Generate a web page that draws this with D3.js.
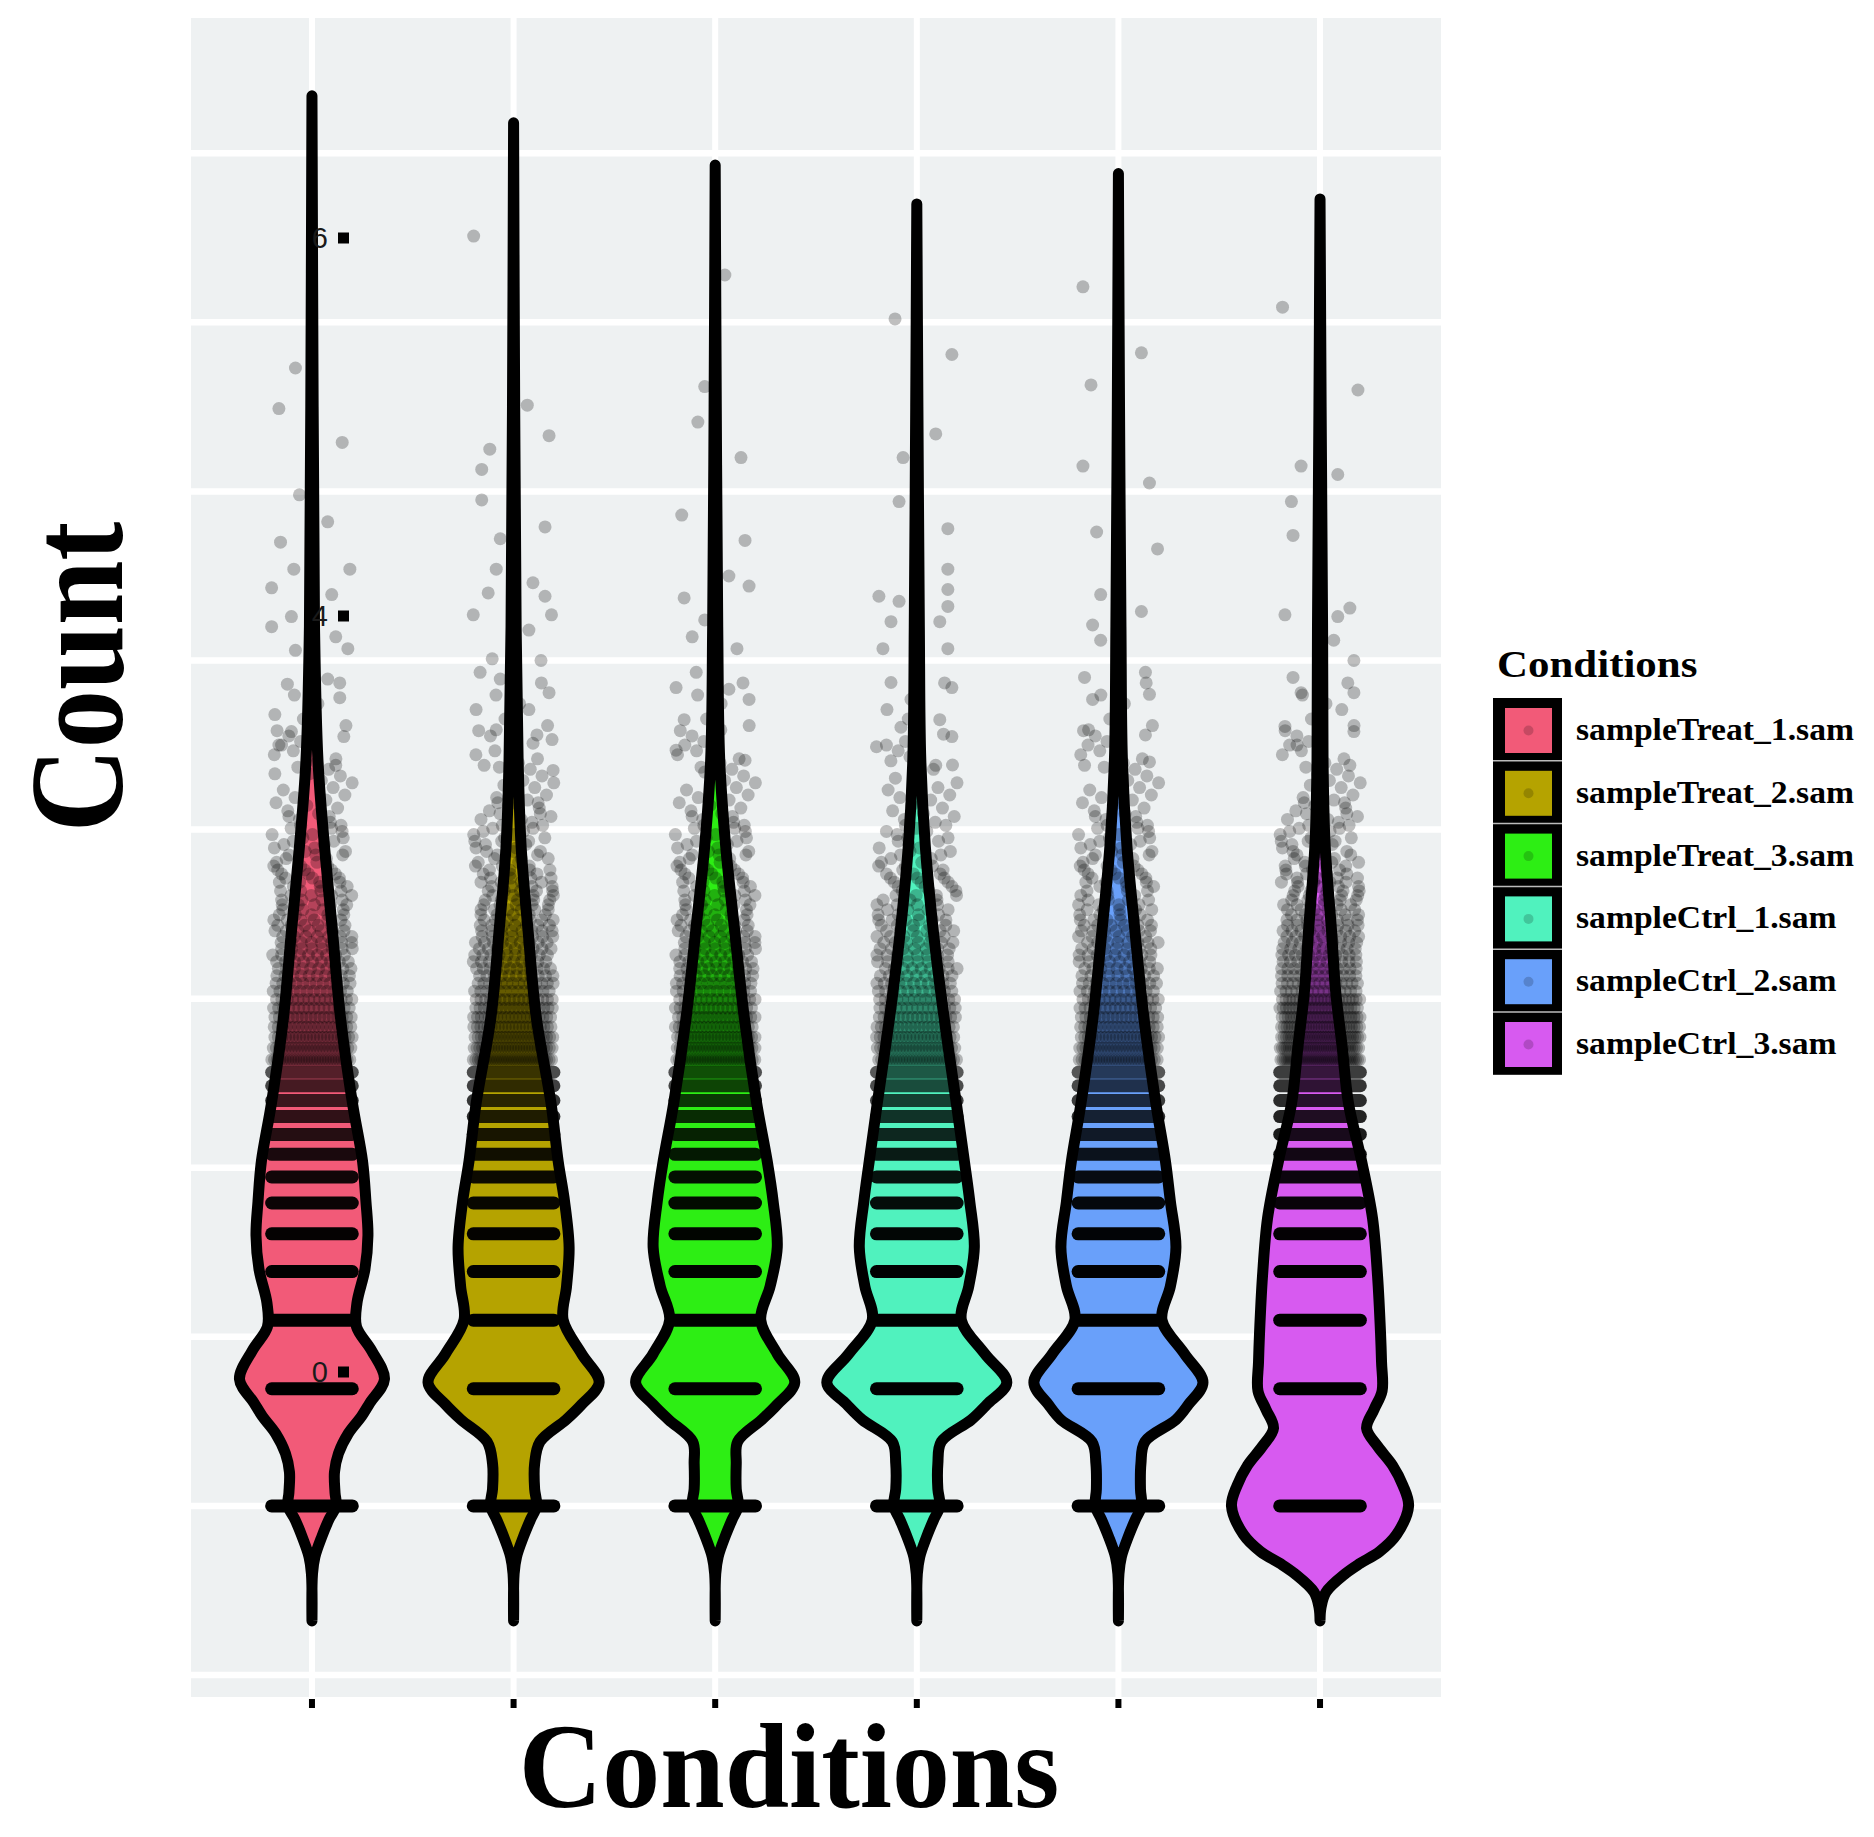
<!DOCTYPE html>
<html><head><meta charset="utf-8">
<script src="https://cdn.jsdelivr.net/npm/d3@7"></script>
<style>body{margin:0;background:#fff}svg{display:block}</style>
</head><body>
<svg id="chart" width="1874" height="1837"></svg>
<script>
// ---------- DATA ----------
const categories = ["sampleTreat_1.sam","sampleTreat_2.sam","sampleTreat_3.sam","sampleCtrl_1.sam","sampleCtrl_2.sam","sampleCtrl_3.sam"];
const fillColors = ["#F25A78","#B5A300","#2DEE14","#50F2BE","#69A0FA","#D75AF0"];
const gridValues = [-1,0,1,2,3,4,5,6,7,8];
const yLabelValues = [0,4,6];
const yLabelTexts = ["0","4","6"];
const yDomain = [-1.13, 8.80];
const labelDomain = [0, 6];

// count levels (upper end of each bin; y = ln(count)) and number of genes in each bin
const countLevels = [1,2,3,4,5,6,7,8,9,10,11,12,13,14,15,16,17,18,19,20,22,24,26,28,30,32,35,38,41,44,48,52,56,61,66,72,78,85,93,102,112,123,135];
const freqTreat1 = [700,320,210,160,125,100,85,72,60,52,45,40,34,30,26,23,20,18,16,15,24,20,18,16,14,12,14,12,10,9,9,8,7,6,5,4,4,4,3,3,2,2,1];
const freqTreat2 = [650,300,200,155,125,100,88,75,65,56,48,42,37,33,29,26,23,21,19,17,27,23,20,18,16,14,16,14,12,10,10,9,8,7,6,5,4,4,4,3,2,2,1];
const freqTreat3 = [680,310,205,158,124,100,86,73,62,54,46,40,35,31,27,24,21,19,17,15,25,21,18,16,14,12,14,12,10,9,9,8,7,6,5,4,4,4,3,3,2,2,1];
const freqCtrl1  = [720,320,205,155,120,96,82,70,58,50,43,37,32,28,25,22,19,17,15,14,22,18,16,14,12,11,12,10,9,8,8,7,6,5,4,4,3,3,3,2,2,1,1];
const freqCtrl2  = [700,315,205,156,122,98,84,71,60,51,44,38,33,29,26,23,20,18,16,15,23,19,17,15,13,12,13,11,10,9,9,8,7,6,5,4,4,4,3,3,2,2,1];
const freqCtrl3  = [800,330,215,165,130,108,92,80,70,62,55,49,44,40,36,33,30,27,25,23,30,26,23,20,18,16,18,15,13,11,11,9,8,7,6,5,4,4,3,3,2,2,1];

// violin density profiles: [ln count, relative half-width]
const profileTreat1 = [[-0.68,0],[-0.40,.006],[-0.30,.033],[-0.18,.11],[-0.08,.187],[0,.265],[0.08,.254],[0.2,.248],[0.31,.292],[0.43,.402],[0.53,.546],[0.61,.639],[0.75,.799],[0.92,.656],[1.06,.491],[1.2,.496],[1.4,.584],[1.6,.617],[1.8,.595],[2.04,.557],[2.38,.447],[2.89,.314],[3.40,.226],[3.9,.138],[4.41,.066],[5.2,.028],[6.5,.013],[8.34,0]];
const profileTreat2 = [[-0.68,0],[-0.40,.006],[-0.30,.033],[-0.18,.11],[-0.08,.187],[0,.254],[0.1,.232],[0.25,.232],[0.38,.292],[0.51,.579],[0.6,.75],[0.73,.943],[0.9,.75],[1.10,.546],[1.3,.584],[1.53,.612],[1.8,.562],[2.04,.491],[2.38,.413],[2.89,.25],[3.40,.16],[3.9,.083],[4.41,.05],[5.2,.028],[6.5,.012],[8.18,0]];
const profileTreat3 = [[-0.68,0],[-0.40,.006],[-0.30,.033],[-0.18,.11],[-0.08,.187],[0,.254],[0.1,.232],[0.25,.232],[0.38,.248],[0.51,.513],[0.6,.684],[0.73,.877],[0.9,.684],[1.10,.502],[1.3,.606],[1.53,.684],[1.8,.639],[2.04,.573],[2.38,.458],[2.89,.32],[3.40,.215],[3.9,.116],[4.41,.05],[5.2,.028],[6.5,.012],[7.93,0]];
const profileCtrl1 = [[-0.68,0],[-0.40,.006],[-0.30,.033],[-0.18,.11],[-0.08,.187],[0,.254],[0.1,.232],[0.25,.232],[0.38,.27],[0.51,.601],[0.6,.772],[0.73,.992],[0.9,.75],[1.10,.491],[1.3,.573],[1.53,.634],[1.8,.584],[2.04,.524],[2.38,.436],[2.89,.3],[3.40,.182],[3.9,.094],[4.41,.044],[5.2,.028],[6.5,.012],[7.70,0]];
const profileCtrl2 = [[-0.68,0],[-0.40,.006],[-0.30,.033],[-0.18,.11],[-0.08,.187],[0,.254],[0.1,.243],[0.25,.248],[0.38,.292],[0.51,.634],[0.6,.772],[0.73,.932],[0.9,.728],[1.10,.48],[1.3,.573],[1.53,.634],[1.8,.573],[2.04,.518],[2.38,.413],[2.89,.28],[3.40,.182],[3.9,.094],[4.41,.044],[5.2,.028],[6.5,.012],[7.88,0]];
const profileCtrl3 = [[-0.68,0],[-0.6,.011],[-0.51,.066],[-0.40,.281],[-0.34,.441],[-0.27,.656],[-0.17,.843],[0,.976],[0.12,.915],[0.24,.799],[0.35,.639],[0.46,.513],[0.57,.595],[0.68,.684],[0.85,.678],[1.02,.667],[1.36,.634],[1.70,.579],[2.04,.458],[2.38,.314],[2.72,.243],[3.05,.171],[3.40,.127],[3.91,.056],[4.41,.033],[5.2,.028],[6.5,.012],[7.73,0]];

// sparse high-count points: [jitter (-1..1), ln count]
const pointsTreat1 = [[-0.41,6.73],[-0.82,6.49],[0.75,6.29],[-0.31,5.98],[0.39,5.82],[-0.78,5.70],[-0.45,5.54],[0.94,5.54],[-1.0,5.43],[0.49,5.39],[-0.51,5.26],[-1.0,5.20],[0.59,5.14],[0.89,5.07],[-0.41,5.06],[-0.61,4.86],[0.39,4.89],[0.69,4.78],[-0.92,4.68],[-0.51,4.58],[0.79,4.55],[-0.82,4.50],[0.59,4.38],[-0.92,4.33]];
const pointsTreat2 = [[-0.99,7.51],[0.34,6.51],[0.88,6.33],[-0.59,6.25],[-0.79,6.13],[-0.79,5.95],[0.78,5.79],[-0.33,5.72],[-0.43,5.54],[0.48,5.46],[-0.63,5.40],[0.78,5.38],[-1.0,5.27],[0.94,5.27],[0.38,5.18],[-0.53,5.01],[0.68,5.00],[-0.83,4.93],[-0.33,4.89],[0.88,4.81],[-0.93,4.71],[0.38,4.71],[-0.43,4.59],[0.58,4.56],[-0.73,4.38],[0.98,4.35]];
const pointsTreat3 = [[0.24,7.28],[-0.26,6.62],[-0.43,6.41],[0.64,6.20],[-0.83,5.86],[0.74,5.71],[0.34,5.50],[0.84,5.44],[-0.77,5.37],[-0.26,5.24],[-0.57,5.14],[0.54,5.07],[-0.47,4.93],[-0.97,4.84],[0.34,4.83],[0.84,4.77],[-0.77,4.65],[0.14,4.59],[-0.97,4.47],[0.74,4.41],[-0.26,4.34]];
const pointsCtrl1 = [[-0.54,7.02],[0.87,6.81],[0.47,6.34],[-0.34,6.20],[-0.44,5.94],[0.77,5.78],[0.77,5.54],[0.77,5.42],[-0.94,5.38],[-0.44,5.35],[0.77,5.32],[-0.64,5.23],[0.57,5.23],[-0.84,5.07],[0.77,5.07],[-0.64,4.87],[0.87,4.84],[-0.74,4.71],[0.57,4.65],[-1.0,4.49],[0.87,4.55],[0.47,4.38]];
const pointsCtrl2 = [[-0.88,7.21],[0.57,6.82],[-0.68,6.63],[-0.88,6.15],[0.77,6.05],[-0.54,5.76],[0.97,5.66],[-0.44,5.39],[0.57,5.29],[-0.64,5.21],[-0.44,5.12],[-0.84,4.90],[0.67,4.93],[-0.64,4.77],[0.77,4.80],[-0.74,4.59],[0.67,4.56],[-0.84,4.38],[0.77,4.40]];
const pointsCtrl3 = [[-0.93,7.09],[0.94,6.60],[-0.47,6.15],[0.44,6.10],[-0.71,5.94],[-0.67,5.74],[-0.87,5.27],[0.74,5.31],[0.44,5.26],[0.34,5.12],[0.84,5.00],[-0.67,4.90],[-0.47,4.81],[0.84,4.81],[0.54,4.71],[-0.87,4.61],[-0.57,4.50],[0.84,4.58],[0.74,4.38]];

const freqs = [freqTreat1,freqTreat2,freqTreat3,freqCtrl1,freqCtrl2,freqCtrl3];
const profiles = [profileTreat1,profileTreat2,profileTreat3,profileCtrl1,profileCtrl2,profileCtrl3];
const pointSets = [pointsTreat1,pointsTreat2,pointsTreat3,pointsCtrl1,pointsCtrl2,pointsCtrl3];

// ---------- LAYOUT ----------
const svg = d3.select("#chart");
const panel = {left:191, right:1441, top:18, bottom:1697};
const x = d3.scalePoint().domain(categories).range([panel.left, panel.right]).padding(0.6);
const step = x.step();
const y = d3.scaleLinear().domain(yDomain).range([panel.bottom, panel.top]);
const yLab = d3.scaleLinear().domain(labelDomain).range([1372, 238]);
const wScale = d3.scaleLinear().domain([0,1]).range([0, 0.45*step]);
const color = d3.scaleOrdinal().domain(categories).range(fillColors);
const jitterHalf = 0.2*step;
const pointR = 6.5, pointAlpha = 0.25;
const solidBarMax = 13;           // rows up to this count drawn as merged bars
const serif = "'Liberation Serif','Times New Roman',serif";

svg.append("rect").attr("width",1874).attr("height",1837).attr("fill","#fff");
svg.append("rect").attr("x",panel.left).attr("y",panel.top)
  .attr("width",panel.right-panel.left).attr("height",panel.bottom-panel.top).attr("fill","#eef1f2");

// grid
svg.append("g").selectAll("line").data(gridValues).join("line")
  .attr("x1",panel.left).attr("x2",panel.right)
  .attr("y1",d=>y(d)).attr("y2",d=>y(d))
  .attr("stroke","#fff").attr("stroke-width",6.5);
svg.append("g").selectAll("line").data(categories).join("line")
  .attr("x1",d=>x(d)).attr("x2",d=>x(d))
  .attr("y1",panel.top).attr("y2",panel.bottom)
  .attr("stroke","#fff").attr("stroke-width",6);

// violins
const gV = svg.append("g");
categories.forEach((c,i)=>{
  const cx = x(c);
  const area = d3.area()
    .curve(d3.curveCatmullRom.alpha(0.5))
    .y(d=>y(d[0]))
    .x0(d=>cx - wScale(d[1]))
    .x1(d=>cx + wScale(d[1]));
  gV.append("path").datum(profiles[i]).attr("d",area)
    .attr("fill",color(c)).attr("stroke","#000").attr("stroke-width",11)
    .attr("stroke-linejoin","round");
});

// jittered points
const gS = svg.append("g");
const dotArea = Math.PI*pointR*pointR;
const golden = 0.6180339887;
categories.forEach((c,i)=>{
  const cx = x(c);
  const rows = [];
  countLevels.forEach((L,k)=>{
    const f = freqs[i][k];
    if (L <= solidBarMax) {
      const cover = f*dotArea/((2*jitterHalf+2*pointR)*2*pointR);
      const op = 1 - Math.pow(1-pointAlpha, cover);
      gS.append("line")
        .attr("x1",cx-jitterHalf).attr("x2",cx+jitterHalf)
        .attr("y1",y(Math.log(L))).attr("y2",y(Math.log(L)))
        .attr("stroke","#000").attr("stroke-opacity",op)
        .attr("stroke-width",2*pointR).attr("stroke-linecap","round");
      return;
    }
    const lo = k>0 ? countLevels[k-1]+1 : L;
    const m = L - lo + 1;
    const n = {};
    for (let j=0;j<f;j++){ const cnt = lo + Math.floor((j+0.5)*m/f); n[cnt]=(n[cnt]||0)+1; }
    Object.keys(n).forEach(cnt=>rows.push({count:+cnt, n:n[cnt]}));
  });
  const dots = [];
  rows.forEach(r=>{
    const phase = (r.count*golden) % 1;
    for (let j=0;j<r.n;j++){
      const u = ((j+0.5)/r.n + phase) % 1;
      dots.push({jit: u*2-1, v: Math.log(r.count)});
    }
  });
  gS.append("g").selectAll("circle").data(dots).join("circle")
    .attr("cx",d=>cx + d.jit*jitterHalf).attr("cy",d=>y(d.v))
    .attr("r",pointR).attr("fill","#000").attr("fill-opacity",pointAlpha);
});

// sparse points
const gP = svg.append("g");
categories.forEach((c,i)=>{
  const cx = x(c);
  gP.append("g").selectAll("circle").data(pointSets[i]).join("circle")
    .attr("cx",d=>cx + d[0]*jitterHalf).attr("cy",d=>y(d[1]))
    .attr("r",pointR).attr("fill","#000").attr("fill-opacity",pointAlpha);
});

// y labels (drawn inside panel as in reference)
const gY = svg.append("g");
gY.selectAll("text").data(yLabelValues).join("text")
  .attr("x",328).attr("y",d=>yLab(d)).attr("dy","0.35em")
  .attr("text-anchor","end").attr("font-family","'Liberation Sans',Arial,sans-serif")
  .attr("font-size",29).attr("fill","#1a1a1a")
  .text((d,i)=>yLabelTexts[i]);
gY.selectAll("rect").data(yLabelValues).join("rect")
  .attr("x",338).attr("y",d=>yLab(d)-5.5).attr("width",11).attr("height",11).attr("fill","#000");

// x ticks
svg.append("g").selectAll("rect").data(categories).join("rect")
  .attr("x",d=>x(d)-3).attr("y",panel.bottom+2).attr("width",6).attr("height",9).attr("fill","#000");

// axis titles
svg.append("text").attr("transform","translate(789,1807) scale(0.957,1)")
  .attr("text-anchor","middle").attr("font-family",serif).attr("font-weight","bold")
  .attr("font-size",121).attr("fill","#000").text("Conditions");
svg.append("text").attr("transform","translate(122,677) rotate(-90) scale(0.875,1)")
  .attr("text-anchor","middle").attr("font-family",serif).attr("font-weight","bold")
  .attr("font-size",133).attr("fill","#000").text("Count");

// legend
const lg = svg.append("g");
lg.append("text").attr("transform","translate(1497,677) scale(1.13,1)")
  .attr("font-family",serif).attr("font-weight","bold").attr("font-size",38).attr("fill","#000")
  .text("Conditions");
const keyTop = 698, keyH = 62.8;
const keys = lg.selectAll("g.key").data(categories).join("g").attr("class","key")
  .attr("transform",(d,i)=>`translate(0,${keyTop + i*keyH})`);
keys.append("rect").attr("x",1493).attr("y",0).attr("width",69).attr("height",keyH).attr("fill","#000");
keys.append("rect").attr("x",1505).attr("y",10).attr("width",47).attr("height",45).attr("fill",d=>color(d));
keys.append("circle").attr("cx",1528.5).attr("cy",32.5).attr("r",5).attr("fill","#000").attr("fill-opacity",0.18);
keys.filter((d,i)=>i>0).append("line").attr("x1",1493).attr("x2",1562).attr("y1",0).attr("y2",0)
  .attr("stroke","#bbb").attr("stroke-width",1.5);
lg.selectAll("text.lab").data(categories).join("text").attr("class","lab")
  .attr("transform",(d,i)=>`translate(1576,${keyTop + i*keyH + 42}) scale(1.085,1)`)
  .attr("font-family",serif).attr("font-weight","bold").attr("font-size",31).attr("fill","#000")
  .text(d=>d);
</script>
</body></html>
